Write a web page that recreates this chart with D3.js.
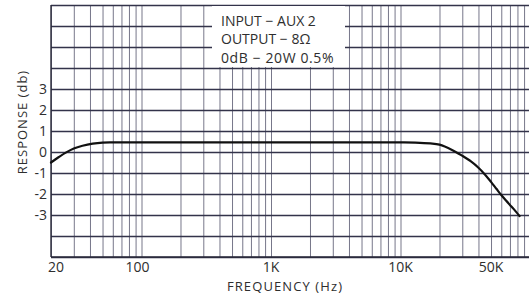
<!DOCTYPE html>
<html>
<head>
<meta charset="utf-8">
<script src="https://cdn.jsdelivr.net/npm/d3@7.9.0/dist/d3.min.js"></script>
<style>
  html, body { margin: 0; padding: 0; background: #fff; }
  svg { display: block; }
  text { font-family: "Open Sans", "DejaVu Sans", sans-serif; fill: #2e2e2e; }
  .grid line { stroke-linecap: butt; }
  .grid path { display: none; }
</style>
</head>
<body>
<div id="chart"></div>
<script>
// response curve (Hz, dB)
const freqs      = [20, 23, 26, 30, 35, 42, 50, 60, 100, 1000, 10000, 13000, 17000, 20000, 25000, 30000, 35000, 40000, 45000, 50000, 55000, 60000, 65000, 70000, 75000, 83000];
const responseDb = [-0.5, -0.24, -0.03, 0.17, 0.3, 0.4, 0.45, 0.46, 0.46, 0.46, 0.46, 0.45, 0.41, 0.35, 0.1, -0.18, -0.45, -0.75, -1.08, -1.42, -1.75, -2.05, -2.3, -2.52, -2.72, -3.05];

const yLabels = [3, 2, 1, 0, -1, -2, -3];
const xLabelFreqs = [20, 100, 1000, 10000, 50000];
const xLabels = ['20', '100', '1K', '10K', '50K'];
const legendLines = ['INPUT − AUX 2', 'OUTPUT − 8Ω', '0dB − 20W 0.5%'];

const W = 529, H = 297;
const u = { left: 51, right: 530, top: 5, bottom: 257 };

const svg = d3.select('#chart')
  .append('svg')
  .attr('width', W)
  .attr('height', H);

const x = d3.scaleLog().domain([20, 100000]).range([u.left, u.right]);
const y = d3.scaleLinear().domain([-5, 7]).range([u.bottom, u.top]);

// vertical grid (log)
svg.append('g')
  .attr('class', 'grid')
  .attr('transform', `translate(0,${u.bottom})`)
  .call(d3.axisBottom(x).tickValues(x.ticks()).tickFormat('').tickSize(-(u.bottom - u.top)))
  .selectAll('line')
  .attr('stroke', '#5e5e75')
  .attr('stroke-width', 0.85);

// horizontal grid, 1 dB
svg.append('g')
  .attr('class', 'grid')
  .attr('transform', `translate(${u.left},0)`)
  .call(d3.axisLeft(y).tickValues(d3.range(-5, 8)).tickFormat('').tickSize(-(u.right - u.left)))
  .selectAll('line')
  .attr('stroke', '#33334a')
  .attr('stroke-width', 1.3);

// frame
svg.append('line')
  .attr('x1', u.left).attr('x2', u.left)
  .attr('y1', u.top).attr('y2', u.bottom)
  .attr('stroke', '#2a2a3a').attr('stroke-width', 1.4);
svg.append('line')
  .attr('x1', u.left).attr('x2', u.right)
  .attr('y1', u.bottom).attr('y2', u.bottom)
  .attr('stroke', '#2a2a3a').attr('stroke-width', 1.4);

// legend box
svg.append('rect')
  .attr('x', 212).attr('y', u.top + 1)
  .attr('width', 133).attr('height', 61)
  .attr('fill', '#fff');

svg.append('g')
  .selectAll('text')
  .data(legendLines)
  .join('text')
    .attr('x', 221)
    .attr('y', (d, i) => 26 + i * 18.3)
    .attr('font-size', 14)
    .attr('letter-spacing', (d, i) => i === 2 ? 0.6 : 0)
    .text(d => d);

// response curve
const pts = freqs.map((f, i) => [f, responseDb[i]]);
svg.append('path')
  .datum(pts)
  .attr('fill', 'none')
  .attr('stroke', '#111')
  .attr('stroke-width', 2.2)
  .attr('stroke-linecap', 'round')
  .attr('d', d3.line()
    .x(d => x(d[0]))
    .y(d => y(d[1]))
    .curve(d3.curveCatmullRom.alpha(0.5)));

// y tick labels
svg.append('g')
  .selectAll('text')
  .data(yLabels)
  .join('text')
    .attr('x', 47)
    .attr('y', d => y(d))
    .attr('dy', '0.36em')
    .attr('text-anchor', 'end')
    .attr('font-size', 14)
    .text(d => d);

// x tick labels
svg.append('g')
  .selectAll('text')
  .data(xLabelFreqs)
  .join('text')
    .attr('x', (d, i) => i === 0 ? 48 : x(d) - (d === 100 ? 4 : 0))
    .attr('y', 272)
    .attr('text-anchor', (d, i) => i === 0 ? 'start' : 'middle')
    .attr('font-size', 14)
    .text((d, i) => xLabels[i]);

// axis titles
svg.append('text')
  .attr('x', 285).attr('y', 291)
  .attr('text-anchor', 'middle')
  .attr('font-size', 13)
  .attr('letter-spacing', 1.1)
  .text('FREQUENCY (Hz)');

svg.append('text')
  .attr('transform', 'translate(27,122) rotate(-90)')
  .attr('text-anchor', 'middle')
  .attr('font-size', 13)
  .attr('letter-spacing', 1)
  .text('RESPONSE (db)');
</script>
</body>
</html>
